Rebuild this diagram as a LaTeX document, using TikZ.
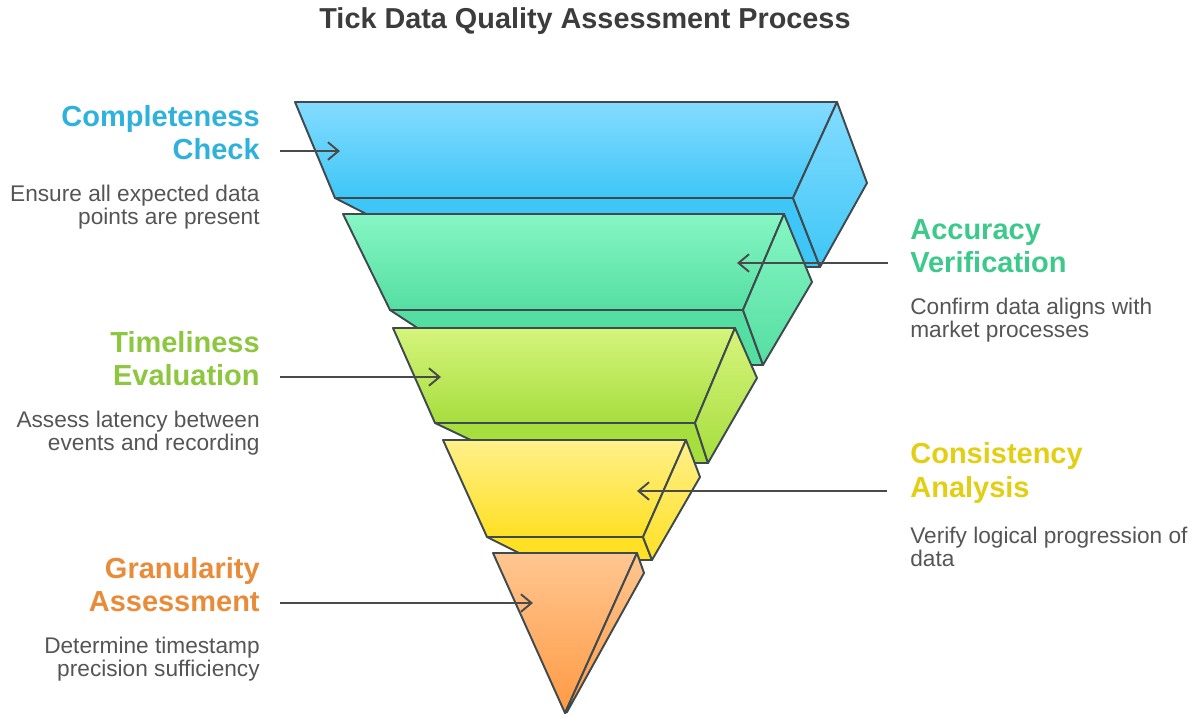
\documentclass[tikz,border=0pt]{standalone}
\usepackage{fontspec}
\setmainfont{Liberation Sans}
\usetikzlibrary{arrows.meta}

\definecolor{edgegray}{HTML}{3E4A4E}
\definecolor{arrowgray}{HTML}{4A4A4A}
\definecolor{textgray}{HTML}{555555}
\definecolor{titlegray}{HTML}{3C3C3C}
\definecolor{bluetop}{HTML}{84DCFF}
\definecolor{bluebot}{HTML}{3EC6F6}
\definecolor{greentop}{HTML}{86F6C4}
\definecolor{greenbot}{HTML}{55DEA2}
\definecolor{limetop}{HTML}{D6F47C}
\definecolor{limebot}{HTML}{A6DE3E}
\definecolor{yellowtop}{HTML}{FFF08A}
\definecolor{yellowbot}{HTML}{FFE024}
\definecolor{orangetop}{HTML}{FFC690}
\definecolor{orangebot}{HTML}{FF9A44}
\definecolor{bluetext}{HTML}{2EB2DC}
\definecolor{greentext}{HTML}{3DC98B}
\definecolor{limetext}{HTML}{8DC63F}
\definecolor{yellowtext}{HTML}{E2CE12}
\definecolor{orangetext}{HTML}{E88C3A}

\tikzset{
  edge/.style={draw=edgegray, line width=1.1pt, line join=round},
  pointer/.style={draw=arrowgray, line width=1.1pt, -{Straight Barb[length=6pt,width=10pt]}},
  heading/.style={inner sep=0pt, font=\bfseries\fontsize{16.5}{18.8}\selectfont},
  blurb/.style={inner sep=0pt, text=textgray, font=\fontsize{12.9}{13.5}\selectfont},
}

% one slice of the funnel: bottom strip, front face, side face
\def\slab#1#2#3#4#5{%
  \draw[edge, fill=#2] #3 -- cycle;
  \draw[edge, top color=#1, bottom color=#2] #4 -- cycle;
  \draw[edge, top color=#1, bottom color=#2] #5 -- cycle;}

\begin{document}
\begin{tikzpicture}[x=0.02cm, y=-0.02cm]
  %%%%% START %%%%%
  \useasboundingbox (0,0) rectangle (1200,714);

  \node[font=\bfseries\fontsize{16.4}{18}\selectfont, text=titlegray] (title) at (585,21) {Tick Data Quality Assessment Process};

  % funnel, top slice first
  \slab{bluetop}{bluebot}{(335,198) -- (793,198) -- (820,267) -- (470,267)}
    {(295,102) -- (837,102) -- (793,198) -- (335,198)}
    {(837,102) -- (867,183) -- (820,267) -- (793,198)}
  \slab{greentop}{greenbot}{(390,310) -- (743,310) -- (763,365) -- (474,365)}
    {(343,214) -- (784,214) -- (743,310) -- (390,310)}
    {(784,214) -- (812,282) -- (763,365) -- (743,310)}
  \slab{limetop}{limebot}{(435,423) -- (695,423) -- (708,463) -- (519,463)}
    {(393,328) -- (735,328) -- (695,423) -- (435,423)}
    {(735,328) -- (757,378) -- (708,463) -- (695,423)}
  \slab{yellowtop}{yellowbot}{(487,537) -- (643,537) -- (652,560) -- (533,560)}
    {(443,440) -- (686,440) -- (643,537) -- (487,537)}
    {(686,440) -- (700,477) -- (652,560) -- (643,537)}
  \draw[edge, top color=orangetop, bottom color=orangebot] (493,553) -- (637,553) -- (565,713) -- cycle;
  \draw[edge, top color=orangetop, bottom color=orangebot] (637,553) -- (644,573) -- (567,712) -- (565,713) -- cycle;

  % labels, left side
  \node[heading, text=bluetext, align=right, anchor=east] (complete) at (260,133) {Completeness\\Check};
  \node[blurb, align=right, anchor=east] (complete-text) at (260,207) {Ensure all expected data\\points are present};
  \node[heading, text=limetext, align=right, anchor=east] (timely) at (260,359) {Timeliness\\Evaluation};
  \node[blurb, align=right, anchor=east] (timely-text) at (260,433) {Assess latency between\\events and recording};
  \node[heading, text=orangetext, align=right, anchor=east] (granular) at (260,585) {Granularity\\Assessment};
  \node[blurb, align=right, anchor=east] (granular-text) at (260,659) {Determine timestamp\\precision sufficiency};

  % labels, right side
  \node[heading, text=greentext, align=left, anchor=west] (accurate) at (910,246) {Accuracy\\Verification};
  \node[blurb, align=left, anchor=west] (accurate-text) at (910,320) {Confirm data aligns with\\market processes};
  \node[heading, text=yellowtext, align=left, anchor=west] (consistent) at (910,473) {Consistency\\Analysis};
  \node[blurb, align=left, anchor=west] (consistent-text) at (910,547) {Verify logical progression of\\data};

  % pointers into the slices
  \coordinate (complete-from) at (280,151);  \coordinate (complete-to) at (340,151);
  \coordinate (accurate-from) at (888,263);  \coordinate (accurate-to) at (737,263);
  \coordinate (timely-from) at (280,377);    \coordinate (timely-to) at (441,377);
  \coordinate (consistent-from) at (887,491); \coordinate (consistent-to) at (637,491);
  \coordinate (granular-from) at (280,603);  \coordinate (granular-to) at (533,603);
  \foreach \s in {complete,accurate,timely,consistent,granular}
    \draw[pointer] (\s-from) -- (\s-to);
  %%%%% END %%%%%
\end{tikzpicture}
\end{document}
